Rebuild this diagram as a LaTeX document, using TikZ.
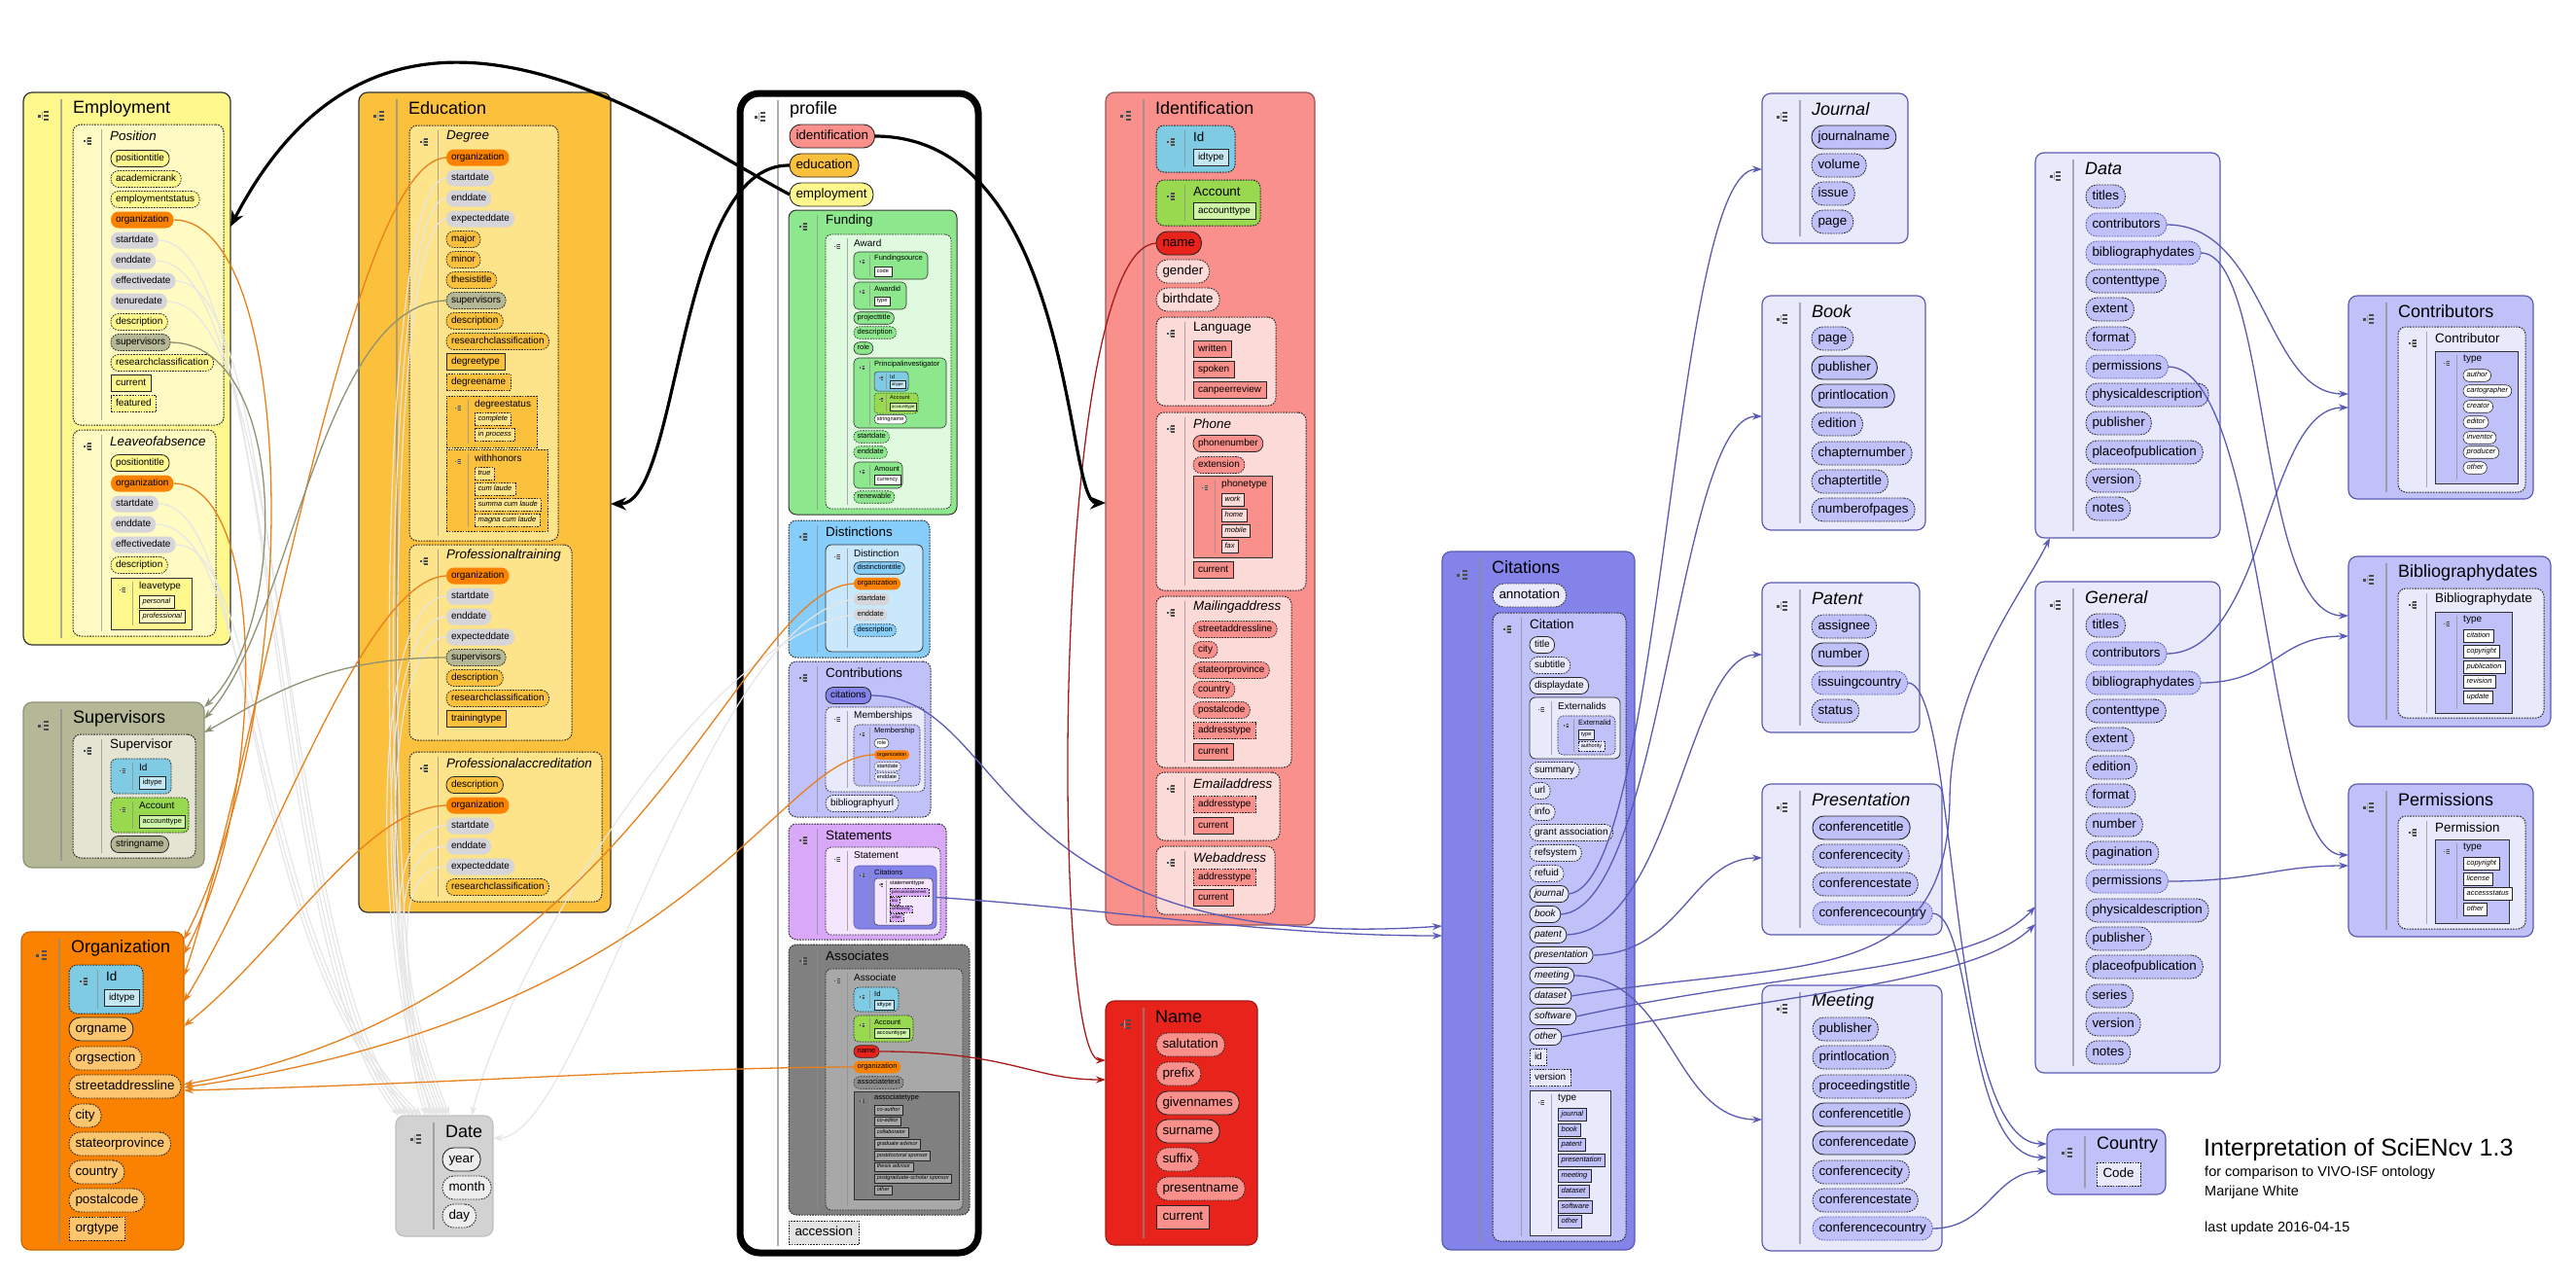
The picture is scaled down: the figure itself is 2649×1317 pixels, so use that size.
\documentclass[tikz,border=0pt]{standalone}
\usepackage{fontspec}
\setmainfont{Liberation Sans}
\usetikzlibrary{arrows.meta}

\definecolor{empY}{HTML}{FFF88C}
\definecolor{empIn}{HTML}{FFFBC2}
\definecolor{eduO}{HTML}{FCC13C}
\definecolor{eduIn}{HTML}{FDE38A}
\definecolor{orgO}{HTML}{FA8200}
\definecolor{orgIt}{HTML}{FDC66E}
\definecolor{dateG}{HTML}{D5D5DA}
\definecolor{dateBx}{HTML}{D2D2D2}
\definecolor{supG}{HTML}{B5B897}
\definecolor{supIn}{HTML}{E4E4D3}
\definecolor{idB}{HTML}{80CBE4}
\definecolor{idIt}{HTML}{C6E8F4}
\definecolor{accG}{HTML}{98D950}
\definecolor{accIt}{HTML}{CFF5A8}
\definecolor{idfR}{HTML}{F9908C}
\definecolor{idfIn}{HTML}{FCDAD8}
\definecolor{nameR}{HTML}{E8231B}
\definecolor{fundG}{HTML}{8DE88D}
\definecolor{fundIn}{HTML}{E0FAE0}
\definecolor{distB}{HTML}{87CDFA}
\definecolor{distIn}{HTML}{CAE8FC}
\definecolor{lavA}{HTML}{C1C1FA}
\definecolor{lavB}{HTML}{E9E9FC}
\definecolor{citB}{HTML}{8383EA}
\definecolor{stmV}{HTML}{D9A8F8}
\definecolor{stmIn}{HTML}{F4E6FC}
\definecolor{assG}{HTML}{808080}
\definecolor{assIn}{HTML}{A8A8A8}
\definecolor{assTx}{HTML}{8E8E8E}
\definecolor{linkB}{HTML}{5A5AB4}
\definecolor{orgLn}{HTML}{E8801C}
\definecolor{supLn}{HTML}{8E9274}
\definecolor{dateLn}{HTML}{E6E6E6}
\definecolor{nameLn}{HTML}{A81A1A}

% per-level geometry of a container: icon offset/scale, separator, title offset/size
\newcommand\setlev[1]{\ifcase#1\relax
 \def\ICx{21}\def\ICy{24}\def\ICs{1}\def\SPx{39}\def\TTx{51}\def\TTy{16.5}\def\TTf{18}\def\SPi{7}\def\RR{9}\def\LW{1.2}\or
 \def\ICx{15}\def\ICy{17}\def\ICs{0.75}\def\SPx{29}\def\TTx{38}\def\TTy{11.5}\def\TTf{13.4}\def\SPi{5}\def\RR{8}\def\LW{1}\or
 \def\ICx{12}\def\ICy{12.5}\def\ICs{0.55}\def\SPx{22}\def\TTx{29}\def\TTy{8.5}\def\TTf{10}\def\SPi{4}\def\RR{6}\def\LW{0.8}\or
 \def\ICx{8.5}\def\ICy{10}\def\ICs{0.42}\def\SPx{16}\def\TTx{21}\def\TTy{6.5}\def\TTf{7.5}\def\SPi{3}\def\RR{5}\def\LW{0.6}\or
 \def\ICx{7}\def\ICy{6.5}\def\ICs{0.32}\def\SPx{12.5}\def\TTx{16}\def\TTy{5}\def\TTf{5.6}\def\SPi{2}\def\RR{3.5}\def\LW{0.5}\fi}

\tikzset{
 ico/.pic={
  \fill[black!70] (-6,-1.5) rectangle (-3,1.5);
  \draw[black!35,line width=0.6] (-1.3,-4.2) -- (-1.3,4.2);
  \fill[black!70] (0,-5) rectangle (5,-3.2);
  \fill[black!70] (0,-0.9) rectangle (5,0.9);
  \fill[black!70] (0,3.2) rectangle (5,5);
 },
 cont/.style={draw=black!80, inner sep=0pt, outer sep=0pt},
 sepl/.style={draw=black!45, draw opacity=0.7},
 itm/.style={anchor=west, inner ysep=0pt, outer sep=0pt},
 lA/.style={font=\fontsize{13.4}{14}\selectfont, minimum height=24, inner xsep=6.5, rounded corners=11.5, line width=0.9, text height=9.6, text depth=2.9},
 lB/.style={font=\fontsize{10}{11}\selectfont, minimum height=17, inner xsep=5, rounded corners=8, line width=0.8, text height=7.2, text depth=2.2},
 lC/.style={font=\fontsize{7.5}{8}\selectfont, minimum height=12.5, inner xsep=3.6, rounded corners=6, line width=0.6, text height=5.4, text depth=1.6},
 lD/.style={font=\fontsize{5.6}{6}\selectfont, minimum height=9.5, inner xsep=2.8, rounded corners=4.5, line width=0.5, text height=4, text depth=1.2},
 lE/.style={font=\fontsize{4.3}{5}\selectfont, minimum height=7.5, inner xsep=2.2, rounded corners=3.5, line width=0.4, text height=3.1, text depth=0.9},
 sq/.style={sharp corners},
 sd/.style={draw=black!85},
 dd/.style={draw=black!85, dash pattern=on 1.6pt off 1.2pt},
 ddB/.style={draw=linkB, dash pattern=on 1.6pt off 1.2pt},
 nb/.style={},
 blk/.style={draw=black, line width=3.2, -{Stealth[length=16pt,width=13pt]}},
 orgL/.style={draw=orgLn, line width=1.3, -{Stealth[length=10pt,width=7pt]}},
 supL/.style={draw=supLn, line width=1.3, -{Stealth[length=10pt,width=7pt]}},
 datL/.style={draw=dateLn, line width=1.2, -{Stealth[length=10pt,width=7pt]}},
 bluL/.style={draw=linkB, line width=1.3, -{Stealth[length=10pt,width=7pt]}},
 nmL/.style={draw=nameLn, line width=1.3, -{Stealth[length=10pt,width=7pt]}},
}

% container: [style]{name}{level}{x1}{y1}{x2}{y2}{title}
\newcommand\Bx[8][]{%
 \setlev{#3}%
 \pgfmathsetmacro\bw{#6-#4}\pgfmathsetmacro\bh{#7-#5}%
 \node[cont, line width=\LW, rounded corners=\RR, minimum width=\bw pt, minimum height=\bh pt, anchor=north west, #1] (#2) at (#4,#5) {};%
 \pic[scale=\ICs] at (#4+\ICx,#5+\ICy) {ico};%
 \draw[sepl, line width=\LW] (#4+\SPx,#5+\SPi) -- (#4+\SPx,#7-\SPi);%
 \node[anchor=west, inner sep=0pt, font=\fontsize{\TTf}{\TTf}\selectfont] (#2t) at (#4+\TTx,#5+\TTy) {#8};%
}
% item: [style]{name}{x}{y}{text}
\newcommand\Itm[5][]{\node[itm,#1] (#2) at (#3,#4) {#5};}

\begin{document}
\begin{tikzpicture}[x=1pt,y=-1pt]
\fill[white] (0,0) rectangle (2649,1317);
\useasboundingbox (0,0) rectangle (2649,1317);

%================ Employment
\Bx[fill=empY]{empBox}{0}{24}{95}{237}{663}{Employment}
\Bx[dd,fill=empIn]{posBox}{1}{75}{128}{230}{437}{\itshape Position}
\Itm[lB,sd,fill=empY]{ps1}{114}{163}{positiontitle}
\Itm[lB,dd,fill=empY]{ps2}{114}{184}{academicrank}
\Itm[lB,dd,fill=empY]{ps3}{114}{205}{employmentstatus}
\Itm[lB,nb,fill=orgO]{psOrg}{114}{226}{organization}
\Itm[lB,nb,fill=dateG]{psSd}{114}{247}{startdate}
\Itm[lB,nb,fill=dateG]{psEd}{114}{268}{enddate}
\Itm[lB,nb,fill=dateG]{psEf}{114}{289}{effectivedate}
\Itm[lB,nb,fill=dateG]{psTn}{114}{310}{tenuredate}
\Itm[lB,dd,fill=empY]{ps9}{114}{331}{description}
\Itm[lB,dd,fill=supG]{psSup}{114}{352}{supervisors}
\Itm[lB,dd,fill=empY]{ps11}{114}{373}{researchclassification}
\Itm[lB,sq,sd,fill=empY]{ps12}{114}{394}{current}
\Itm[lB,sq,dd,fill=empY]{ps13}{114}{415}{featured}
\Bx[dd,fill=empIn]{leaveBox}{1}{75}{442}{222}{654}{\itshape Leaveofabsence}
\Itm[lB,sd,fill=empY]{lv1}{114}{476}{positiontitle}
\Itm[lB,nb,fill=orgO]{lvOrg}{114}{497}{organization}
\Itm[lB,nb,fill=dateG]{lvSd}{114}{518}{startdate}
\Itm[lB,nb,fill=dateG]{lvEd}{114}{539}{enddate}
\Itm[lB,nb,fill=dateG]{lvEf}{114}{560}{effectivedate}
\Itm[lB,dd,fill=empY]{lv6}{114}{581}{description}
\Bx[sq,fill=empY]{ltBox}{2}{114}{594}{197}{647}{leavetype}
\Itm[lC,sq,sd,fill=empIn]{lt1}{143}{619}{\itshape personal}
\Itm[lC,sq,sd,fill=empIn]{lt2}{143}{634}{\itshape professional}

%================ Supervisors
\Bx[fill=supG,draw=supLn]{supBox}{0}{24}{722}{210}{892}{Supervisors}
\Bx[dd,fill=supIn]{svBox}{1}{75}{755}{201}{882}{Supervisor}
\Bx[dd,fill=idB]{svId}{2}{114}{780}{176}{816}{Id}
\Itm[lC,sq,sd,fill=idIt]{sv1}{143}{805}{idtype}
\Bx[dd,fill=accG]{svAcc}{2}{114}{820}{194}{856}{Account}
\Itm[lC,sq,sd,fill=accIt]{sv2}{143}{845}{accounttype}
\Itm[lB,sd,fill=supG]{sv3}{114}{868}{stringname}

%================ Organization
\Bx[fill=orgO,draw=orgO!80!black]{orgBox}{0}{22}{958}{189}{1285}{Organization}
\Bx[dd,fill=idB]{orgId}{1}{71}{992}{147}{1042}{Id}
\Itm[lB,sq,sd,fill=idIt]{og0}{107}{1026}{idtype}
\Itm[lA,sd,fill=orgIt]{og1}{71}{1058}{orgname}
\Itm[lA,dd,fill=orgIt]{og2}{71}{1088}{orgsection}
\Itm[lA,dd,fill=orgIt]{og3}{71}{1117}{streetaddressline}
\Itm[lA,dd,fill=orgIt]{og4}{71}{1147}{city}
\Itm[lA,dd,fill=orgIt]{og5}{71}{1176}{stateorprovince}
\Itm[lA,dd,fill=orgIt]{og6}{71}{1205}{country}
\Itm[lA,dd,fill=orgIt]{og7}{71}{1234}{postalcode}
\Itm[lA,sq,dd,fill=orgIt]{og8}{71}{1263}{orgtype}

%================ Date
\Bx[fill=dateBx,draw=black!25]{dateBox}{0}{407}{1147}{507}{1271}{Date}
\Itm[lA,sd,fill=black!7]{dt1}{455}{1192}{year}
\Itm[lA,dd,fill=black!7]{dt2}{455}{1221}{month}
\Itm[lA,dd,fill=black!7]{dt3}{455}{1250}{day}

%================ Education
\Bx[fill=eduO]{eduBox}{0}{369}{95}{628}{938}{Education}
\Bx[dd,fill=eduIn]{degBox}{1}{421}{129}{574}{556}{\itshape Degree}
\Itm[lB,nb,fill=orgO]{dgOrg}{459}{162}{organization}
\Itm[lB,nb,fill=dateG]{dgSd}{459}{183}{startdate}
\Itm[lB,nb,fill=dateG]{dgEd}{459}{204}{enddate}
\Itm[lB,nb,fill=dateG]{dgEx}{459}{225}{expecteddate}
\Itm[lB,dd,fill=eduO]{dg5}{459}{246}{major}
\Itm[lB,dd,fill=eduO]{dg6}{459}{267}{minor}
\Itm[lB,dd,fill=eduO]{dg7}{459}{288}{thesistitle}
\Itm[lB,dd,fill=supG]{dgSup}{459}{309}{supervisors}
\Itm[lB,dd,fill=eduO]{dg9}{459}{330}{description}
\Itm[lB,dd,fill=eduO]{dg10}{459}{351}{researchclassification}
\Itm[lB,sq,sd,fill=eduO]{dg11}{459}{372}{degreetype}
\Itm[lB,sq,dd,fill=eduO]{dg12}{459}{393}{degreename}
\Bx[sq,dd,fill=eduO]{dsBox}{2}{459}{407}{552}{460}{degreestatus}
\Itm[lC,sq,dd,fill=eduIn]{ds1}{488}{431}{\itshape complete}
\Itm[lC,sq,dd,fill=eduIn]{ds2}{488}{447}{\itshape in process}
\Bx[sq,dd,fill=eduO]{whBox}{2}{459}{462}{563}{546}{withhonors}
\Itm[lC,sq,dd,fill=eduIn]{wh1}{488}{487}{\itshape true}
\Itm[lC,sq,dd,fill=eduIn]{wh2}{488}{503}{\itshape cum laude}
\Itm[lC,sq,dd,fill=eduIn]{wh3}{488}{519}{\itshape summa cum laude}
\Itm[lC,sq,dd,fill=eduIn]{wh4}{488}{535}{\itshape magna cum laude}
\Bx[dd,fill=eduIn]{ptBox}{1}{421}{560}{588}{761}{\itshape Professionaltraining}
\Itm[lB,nb,fill=orgO]{ptOrg}{459}{592}{organization}
\Itm[lB,nb,fill=dateG]{ptSd}{459}{613}{startdate}
\Itm[lB,nb,fill=dateG]{ptEd}{459}{634}{enddate}
\Itm[lB,nb,fill=dateG]{ptEx}{459}{655}{expecteddate}
\Itm[lB,dd,fill=supG]{ptSup}{459}{676}{supervisors}
\Itm[lB,dd,fill=eduO]{pt6}{459}{697}{description}
\Itm[lB,dd,fill=eduO]{pt7}{459}{718}{researchclassification}
\Itm[lB,sq,sd,fill=eduO]{pt8}{459}{739}{trainingtype}
\Bx[dd,fill=eduIn]{paBox}{1}{421}{773}{619}{927}{\itshape Professionalaccreditation}
\Itm[lB,sd,fill=eduO]{pa1}{459}{807}{description}
\Itm[lB,nb,fill=orgO]{paOrg}{459}{828}{organization}
\Itm[lB,nb,fill=dateG]{paSd}{459}{849}{startdate}
\Itm[lB,nb,fill=dateG]{paEd}{459}{870}{enddate}
\Itm[lB,nb,fill=dateG]{paEx}{459}{891}{expecteddate}
\Itm[lB,dd,fill=eduO]{pa6}{459}{912}{researchclassification}

%================ profile
\Bx[draw=black,line width=7,fill=white,rounded corners=20]{pfBox}{0}{761}{96}{1006}{1288}{profile}
\Itm[lA,sd,fill=idfR]{pfIdf}{812}{140}{identification}
\Itm[lA,sd,fill=eduO]{pfEdu}{812}{170}{education}
\Itm[lA,sd,fill=empY]{pfEmp}{812}{200}{employment}
\Bx[fill=fundG]{fundBox}{1}{811}{216}{984}{529}{Funding}
\Bx[dd,fill=fundIn]{awBox}{2}{849}{241}{978}{523}{Award}
\Bx[fill=fundG]{fsBox}{3}{878}{259}{954}{287}{Fundingsource}
\Itm[lD,sq,sd,fill=white]{fs1}{899}{279}{code}
\Bx[fill=fundG]{aidBox}{3}{878}{290}{932}{318}{Awardid}
\Itm[lD,sq,sd,fill=white]{ai1}{899}{309.5}{type}
\Itm[lC,sd,fill=fundG]{aw1}{878}{327}{projecttitle}
\Itm[lC,dd,fill=fundG]{aw2}{878}{342}{description}
\Itm[lC,sd,fill=fundG]{aw3}{878}{358}{role}
\Bx[fill=fundG]{piBox}{3}{878}{368}{973}{440}{Principalinvestigator}
\Bx[fill=idB]{piId}{4}{899}{382}{934}{402}{Id}
\Itm[lE,sq,sd,fill=idIt]{pi1}{915}{395}{idtype}
\Bx[dd,fill=accG]{piAcc}{4}{899}{404}{944}{425}{Account}
\Itm[lE,sq,sd,fill=accIt]{pi2}{915}{418}{accounttype}
\Itm[lD,sd,fill=white]{pi3}{899}{431}{stringname}
\Itm[lC,dd,fill=fundG]{aw4}{878}{449}{startdate}
\Itm[lC,dd,fill=fundG]{aw5}{878}{465}{enddate}
\Bx[fill=fundG]{amBox}{3}{878}{475}{928}{502}{Amount}
\Itm[lD,sq,sd,fill=white]{am1}{899}{493}{currency}
\Itm[lC,dd,fill=fundG]{aw6}{878}{511}{renewable}

\Bx[dd,fill=distB]{distsBox}{1}{811}{535}{956}{676}{Distinctions}
\Bx[fill=distIn]{distBox}{2}{849}{560}{949}{670}{Distinction}
\Itm[lC,sd,fill=distB]{di1}{878}{584}{distinctiontitle}
\Itm[lC,nb,fill=orgO]{dsOrg}{878}{600}{organization}
\Itm[lC,nb,fill=dateG]{dsSd}{878}{616}{startdate}
\Itm[lC,nb,fill=dateG]{dsEd}{878}{632}{enddate}
\Itm[lC,dd,fill=distB]{di5}{878}{648}{description}

\Bx[dd,fill=lavA]{ctsBox}{1}{811}{680}{957}{840}{Contributions}
\Itm[lB,sd,fill=citB]{ctCit}{849}{715}{citations}
\Bx[dd,fill=lavB]{mshsBox}{2}{849}{727}{951}{814}{Memberships}
\Bx[dd,fill=lavA]{mshBox}{3}{878}{745}{946}{808}{Membership}
\Itm[lD,sd,fill=white]{mb1}{899}{764}{role}
\Itm[lD,nb,fill=orgO]{mbOrg}{899}{776}{organization}
\Itm[lD,dd,fill=lavB]{mb3}{899}{788}{startdate}
\Itm[lD,dd,fill=lavB]{mb4}{899}{799}{enddate}
\Itm[lB,dd,fill=lavB]{ct2}{849}{826}{bibliographyurl}

\Bx[dd,fill=stmV]{stsBox}{1}{811}{847}{973}{966}{Statements}
\Bx[dd,fill=stmIn]{stBox}{2}{849}{871}{967}{961}{Statement}
\Bx[fill=citB,draw=linkB]{stCit}{3}{878}{890}{963}{955}{Citations}
\Bx[fill=stmIn]{sttBox}{4}{899}{903}{959}{951}{statementtype}
\Itm[lE,sq,dd,fill=stmV]{stt1}{915}{917}{personalstatement}
\Itm[lE,sq,dd,fill=stmV]{stt2}{915}{926}{bio}
\Itm[lE,sq,dd,fill=stmV]{stt3}{915}{934.5}{selectivity}
\Itm[lE,sq,dd,fill=stmV]{stt4}{915}{943}{other}

\Bx[dd,fill=assG]{assBox}{1}{811}{971}{997}{1249}{Associates}
\Bx[dd,fill=assIn]{asBox}{2}{849}{996}{990}{1244}{Associate}
\Bx[dd,fill=idB]{asId}{3}{878}{1015}{924}{1040}{Id}
\Itm[lD,sq,sd,fill=idIt]{as1}{899}{1033}{idtype}
\Bx[dd,fill=accG]{asAcc}{3}{878}{1044}{939}{1071}{Account}
\Itm[lD,sq,sd,fill=accIt]{as2}{899}{1062}{accounttype}
\Itm[lC,sd,fill=nameR]{asName}{878}{1081}{name}
\Itm[lC,nb,fill=orgO]{asOrg}{878}{1097}{organization}
\Itm[lC,dd,fill=assTx]{as5}{878}{1113}{associatetext}
\Bx[sq,fill=assG]{attBox}{3}{878}{1122}{986}{1233}{associatetype}
\Itm[lD,sq,sd,fill=assIn]{at1}{899}{1141}{\itshape co-author}
\Itm[lD,sq,sd,fill=assIn]{at2}{899}{1152.5}{\itshape co-editor}
\Itm[lD,sq,sd,fill=assIn]{at3}{899}{1164}{\itshape collaborator}
\Itm[lD,sq,sd,fill=assIn]{at4}{899}{1176}{\itshape graduate advisor}
\Itm[lD,sq,sd,fill=assIn]{at5}{899}{1188}{\itshape postdoctoral sponsor}
\Itm[lD,sq,sd,fill=assIn]{at6}{899}{1199.5}{\itshape thesis advisor}
\Itm[lD,sq,sd,fill=assIn]{at7}{899}{1211.5}{\itshape postgraduate-scholar sponsor}
\Itm[lD,sq,sd,fill=assIn]{at8}{899}{1223.5}{\itshape other}
\Itm[lA,sq,dd,fill=black!11]{pfAcc}{811}{1267}{accession}

%================ Identification
\Bx[fill=idfR,draw=idfR!60!black]{idfBox}{0}{1137}{95}{1352}{951}{Identification}
\Bx[dd,fill=idB]{idfId}{1}{1189}{129}{1270}{177}{Id}
\Itm[lB,sq,sd,fill=idIt]{if1}{1227}{162}{idtype}
\Bx[dd,fill=accG]{idfAcc}{1}{1189}{185}{1296}{232}{Account}
\Itm[lB,sq,sd,fill=accIt]{if2}{1227}{217}{accounttype}
\Itm[lA,sd,fill=nameR]{idName}{1189}{250}{name}
\Itm[lA,dd,fill=idfIn]{if3}{1189}{279}{gender}
\Itm[lA,dd,fill=idfIn]{if4}{1189}{308}{birthdate}
\Bx[dd,fill=idfIn]{langBox}{1}{1189}{326}{1312}{417}{Language}
\Itm[lB,sq,sd,fill=idfR]{lg1}{1227}{359}{written}
\Itm[lB,sq,sd,fill=idfR]{lg2}{1227}{380}{spoken}
\Itm[lB,sq,sd,fill=idfR]{lg3}{1227}{401}{canpeerreview}
\Bx[dd,fill=idfIn]{phBox}{1}{1189}{424}{1343}{607}{\itshape Phone}
\Itm[lB,sd,fill=idfR]{ph1}{1227}{456}{phonenumber}
\Itm[lB,dd,fill=idfR]{ph2}{1227}{478}{extension}
\Bx[sq,fill=idfR]{pttBox}{2}{1227}{489}{1308}{573}{phonetype}
\Itm[lC,sq,sd,fill=idfIn]{pt1x}{1256}{514}{\itshape work}
\Itm[lC,sq,sd,fill=idfIn]{pt2x}{1256}{530}{\itshape home}
\Itm[lC,sq,sd,fill=idfIn]{pt3x}{1256}{546}{\itshape mobile}
\Itm[lC,sq,sd,fill=idfIn]{pt4x}{1256}{562}{\itshape fax}
\Itm[lB,sq,sd,fill=idfR]{ph3}{1227}{586}{current}
\Bx[dd,fill=idfIn]{mailBox}{1}{1189}{613}{1328}{789}{\itshape Mailingaddress}
\Itm[lB,dd,fill=idfR]{ma1}{1227}{647}{streetaddressline}
\Itm[lB,dd,fill=idfR]{ma2}{1227}{668}{city}
\Itm[lB,dd,fill=idfR]{ma3}{1227}{689}{stateorprovince}
\Itm[lB,dd,fill=idfR]{ma4}{1227}{709}{country}
\Itm[lB,dd,fill=idfR]{ma5}{1227}{730}{postalcode}
\Itm[lB,sq,dd,fill=idfR]{ma6}{1227}{751}{addresstype}
\Itm[lB,sq,sd,fill=idfR]{ma7}{1227}{773}{current}
\Bx[dd,fill=idfIn]{emBox}{1}{1189}{794}{1316}{864}{\itshape Emailaddress}
\Itm[lB,sq,dd,fill=idfR]{em1}{1227}{827}{addresstype}
\Itm[lB,sq,sd,fill=idfR]{em2}{1227}{849}{current}
\Bx[dd,fill=idfIn]{webBox}{1}{1189}{870}{1311}{940}{\itshape Webaddress}
\Itm[lB,sq,dd,fill=idfR]{wb1}{1227}{902}{addresstype}
\Itm[lB,sq,sd,fill=idfR]{wb2}{1227}{923}{current}

%================ Name
\Bx[fill=nameR,draw=nameR!70!black]{nameBox}{0}{1137}{1029}{1293}{1280}{Name}
\Itm[lA,dd,fill=idfR]{nm1}{1189}{1074}{salutation}
\Itm[lA,dd,fill=idfR]{nm2}{1189}{1104}{prefix}
\Itm[lA,sd,fill=idfR]{nm3}{1189}{1134}{givennames}
\Itm[lA,sd,fill=idfR]{nm4}{1189}{1163}{surname}
\Itm[lA,dd,fill=idfR]{nm5}{1189}{1192}{suffix}
\Itm[lA,dd,fill=idfR]{nm6}{1189}{1222}{presentname}
\Itm[lA,sq,sd,fill=idfR]{nm7}{1189}{1251}{current}

%================ Citations
\Bx[fill=citB,draw=linkB]{citBox}{0}{1483}{567}{1681}{1285}{Citations}
\Itm[lA,dd,fill=lavB]{cn0}{1535}{612}{annotation}
\Bx[dd,fill=lavA]{citnBox}{1}{1535}{630}{1672}{1276}{Citation}
\Itm[lB,sd,fill=lavB]{cn1}{1573}{663}{title}
\Itm[lB,dd,fill=lavB]{cn2}{1573}{684}{subtitle}
\Itm[lB,sd,fill=lavB]{cn3}{1573}{705}{displaydate}
\Bx[fill=lavB]{exsBox}{2}{1573}{717}{1666}{780}{Externalids}
\Bx[dd,fill=lavA]{exBox}{3}{1602}{736}{1661}{776}{Externalid}
\Itm[lD,sq,sd,fill=lavB]{ex1}{1623}{755}{type}
\Itm[lD,sq,dd,fill=lavB]{ex2}{1623}{767}{authority}
\Itm[lB,dd,fill=lavB]{cn4}{1573}{792}{summary}
\Itm[lB,dd,fill=lavB]{cn5}{1573}{813}{url}
\Itm[lB,dd,fill=lavB]{cn6}{1573}{835}{info}
\Itm[lB,dd,fill=lavB]{cn7}{1573}{856}{grant association}
\Itm[lB,dd,fill=lavB]{cn8}{1573}{877}{refsystem}
\Itm[lB,dd,fill=lavB]{cn9}{1573}{898}{refuid}
\Itm[lB,sd,fill=lavB]{cJour}{1573}{919}{\itshape journal}
\Itm[lB,sd,fill=lavB]{cBook}{1573}{940}{\itshape book}
\Itm[lB,sd,fill=lavB]{cPat}{1573}{961}{\itshape patent}
\Itm[lB,sd,fill=lavB]{cPres}{1573}{982}{\itshape presentation}
\Itm[lB,sd,fill=lavB]{cMeet}{1573}{1003}{\itshape meeting}
\Itm[lB,sd,fill=lavB]{cData}{1573}{1024}{\itshape dataset}
\Itm[lB,sd,fill=lavB]{cSoft}{1573}{1045}{\itshape software}
\Itm[lB,sd,fill=lavB]{cOth}{1573}{1066}{\itshape other}
\Itm[lB,sq,dd,fill=lavB]{cn10}{1573}{1087}{id}
\Itm[lB,sq,dd,fill=lavB]{cn11}{1573}{1108}{version}
\Bx[sq,fill=lavB]{ctyBox}{2}{1573}{1121}{1656}{1270}{type}
\Itm[lC,sq,sd,fill=lavA]{ty1}{1602}{1146}{\itshape journal}
\Itm[lC,sq,sd,fill=lavA]{ty2}{1602}{1162}{\itshape book}
\Itm[lC,sq,sd,fill=lavA]{ty3}{1602}{1177}{\itshape patent}
\Itm[lC,sq,sd,fill=lavA]{ty4}{1602}{1193}{\itshape presentation}
\Itm[lC,sq,sd,fill=lavA]{ty5}{1602}{1209}{\itshape meeting}
\Itm[lC,sq,sd,fill=lavA]{ty6}{1602}{1225}{\itshape dataset}
\Itm[lC,sq,sd,fill=lavA]{ty7}{1602}{1241}{\itshape software}
\Itm[lC,sq,sd,fill=lavA]{ty8}{1602}{1256}{\itshape other}

%================ Journal, Book, Patent, Presentation, Meeting
\Bx[fill=lavB,draw=linkB]{jourBox}{0}{1812}{96}{1962}{250}{\itshape Journal}
\Itm[lA,sd,fill=lavA]{jo1}{1863}{141}{journalname}
\Itm[lA,dd,fill=lavA]{jo2}{1863}{170}{volume}
\Itm[lA,dd,fill=lavA]{jo3}{1863}{199}{issue}
\Itm[lA,dd,fill=lavA]{jo4}{1863}{228}{page}
\Bx[fill=lavB,draw=linkB]{bookBox}{0}{1812}{304}{1980}{545}{\itshape Book}
\Itm[lA,dd,fill=lavA]{bk1}{1863}{348}{page}
\Itm[lA,sd,fill=lavA]{bk2}{1863}{378}{publisher}
\Itm[lA,sd,fill=lavA]{bk3}{1863}{407}{printlocation}
\Itm[lA,dd,fill=lavA]{bk4}{1863}{436}{edition}
\Itm[lA,dd,fill=lavA]{bk5}{1863}{466}{chapternumber}
\Itm[lA,dd,fill=lavA]{bk6}{1863}{495}{chaptertitle}
\Itm[lA,dd,fill=lavA]{bk7}{1863}{524}{numberofpages}
\Bx[fill=lavB,draw=linkB]{patBox}{0}{1812}{599}{1974}{753}{\itshape Patent}
\Itm[lA,dd,fill=lavA]{pa1x}{1863}{644}{assignee}
\Itm[lA,sd,fill=lavA]{pa2x}{1863}{673}{number}
\Itm[lA,ddB,fill=lavA]{patCtry}{1863}{702}{issuingcountry}
\Itm[lA,dd,fill=lavA]{pa4x}{1863}{731}{status}
\Bx[fill=lavB,draw=linkB]{presBox}{0}{1812}{806}{1997}{961}{\itshape Presentation}
\Itm[lA,sd,fill=lavA]{pr1}{1864}{851}{conferencetitle}
\Itm[lA,dd,fill=lavA]{pr2}{1864}{880}{conferencecity}
\Itm[lA,dd,fill=lavA]{pr3}{1864}{909}{conferencestate}
\Itm[lA,ddB,fill=lavA]{prCtry}{1864}{939}{conferencecountry}
\Bx[fill=lavB,draw=linkB]{meetBox}{0}{1812}{1013}{1997}{1286}{\itshape Meeting}
\Itm[lA,dd,fill=lavA]{me1}{1864}{1058}{publisher}
\Itm[lA,dd,fill=lavA]{me2}{1864}{1087}{printlocation}
\Itm[lA,dd,fill=lavA]{me3}{1864}{1117}{proceedingstitle}
\Itm[lA,sd,fill=lavA]{me4}{1864}{1146}{conferencetitle}
\Itm[lA,sd,fill=lavA]{me5}{1864}{1175}{conferencedate}
\Itm[lA,dd,fill=lavA]{me6}{1864}{1205}{conferencecity}
\Itm[lA,dd,fill=lavA]{me7}{1864}{1234}{conferencestate}
\Itm[lA,ddB,fill=lavA]{mtCtry}{1864}{1263}{conferencecountry}

%================ Data, General
\Bx[fill=lavB,draw=linkB]{dataBox}{0}{2093}{157}{2283}{553}{\itshape Data}
\Itm[lA,dd,fill=lavA]{da1}{2145}{202}{titles}
\Itm[lA,ddB,fill=lavA]{daContr}{2145}{231}{contributors}
\Itm[lA,ddB,fill=lavA]{daBib}{2145}{260}{bibliographydates}
\Itm[lA,dd,fill=lavA]{da4}{2145}{289}{contenttype}
\Itm[lA,dd,fill=lavA]{da5}{2145}{318}{extent}
\Itm[lA,dd,fill=lavA]{da6}{2145}{348}{format}
\Itm[lA,ddB,fill=lavA]{daPerm}{2145}{377}{permissions}
\Itm[lA,dd,fill=lavA]{da8}{2145}{406}{physicaldescription}
\Itm[lA,dd,fill=lavA]{da9}{2145}{435}{publisher}
\Itm[lA,dd,fill=lavA]{da10}{2145}{465}{placeofpublication}
\Itm[lA,dd,fill=lavA]{da11}{2145}{494}{version}
\Itm[lA,dd,fill=lavA]{da12}{2145}{523}{notes}
\Bx[fill=lavB,draw=linkB]{genBox}{0}{2093}{598}{2283}{1103}{\itshape General}
\Itm[lA,dd,fill=lavA]{ge1}{2145}{643}{titles}
\Itm[lA,ddB,fill=lavA]{geContr}{2145}{672}{contributors}
\Itm[lA,ddB,fill=lavA]{geBib}{2145}{702}{bibliographydates}
\Itm[lA,dd,fill=lavA]{ge4}{2145}{731}{contenttype}
\Itm[lA,dd,fill=lavA]{ge5}{2145}{760}{extent}
\Itm[lA,dd,fill=lavA]{ge6}{2145}{789}{edition}
\Itm[lA,dd,fill=lavA]{ge7}{2145}{818}{format}
\Itm[lA,dd,fill=lavA]{ge8}{2145}{848}{number}
\Itm[lA,dd,fill=lavA]{ge9}{2145}{877}{pagination}
\Itm[lA,ddB,fill=lavA]{gePerm}{2145}{906}{permissions}
\Itm[lA,dd,fill=lavA]{ge11}{2145}{936}{physicaldescription}
\Itm[lA,dd,fill=lavA]{ge12}{2145}{965}{publisher}
\Itm[lA,dd,fill=lavA]{ge13}{2145}{994}{placeofpublication}
\Itm[lA,dd,fill=lavA]{ge14}{2145}{1024}{series}
\Itm[lA,dd,fill=lavA]{ge15}{2145}{1053}{version}
\Itm[lA,dd,fill=lavA]{ge16}{2145}{1082}{notes}

%================ Contributors, Bibliographydates, Permissions, Country
\Bx[fill=lavA,draw=linkB]{contrBox}{0}{2415}{304}{2605}{513}{Contributors}
\Bx[dd,fill=lavB]{cbBox}{1}{2466}{336}{2597}{506}{Contributor}
\Bx[sq,fill=lavA]{cbType}{2}{2504}{361}{2589}{497}{type}
\Itm[lC,sd,fill=white]{cb1}{2533}{386}{\itshape author}
\Itm[lC,sd,fill=white]{cb2}{2533}{402}{\itshape cartographer}
\Itm[lC,sd,fill=white]{cb3}{2533}{418}{\itshape creator}
\Itm[lC,sd,fill=white]{cb4}{2533}{434}{\itshape editor}
\Itm[lC,sd,fill=white]{cb5}{2533}{450}{\itshape inventor}
\Itm[lC,sd,fill=white]{cb6}{2533}{465}{\itshape producer}
\Itm[lC,sd,fill=white]{cb7}{2533}{481}{\itshape other}
\Bx[fill=lavA,draw=linkB]{bibBox}{0}{2415}{572}{2623}{747}{Bibliographydates}
\Bx[dd,fill=lavB]{bdBox}{1}{2466}{605}{2616}{738}{Bibliographydate}
\Bx[sq,fill=lavA]{bdType}{2}{2504}{629}{2583}{733}{type}
\Itm[lC,sq,sd,fill=white]{bd1}{2533}{654}{\itshape citation}
\Itm[lC,sq,sd,fill=white]{bd2}{2533}{670}{\itshape copyright}
\Itm[lC,sq,sd,fill=white]{bd3}{2533}{686}{\itshape publication}
\Itm[lC,sq,sd,fill=white]{bd4}{2533}{701}{\itshape revision}
\Itm[lC,sq,sd,fill=white]{bd5}{2533}{717}{\itshape update}
\Bx[fill=lavA,draw=linkB]{permBox}{0}{2415}{806}{2605}{963}{Permissions}
\Bx[dd,fill=lavB]{pmBox}{1}{2466}{839}{2597}{955}{Permission}
\Bx[sq,fill=lavA]{pmType}{2}{2504}{863}{2580}{949}{type}
\Itm[lC,sq,sd,fill=white]{pm1}{2533}{888}{\itshape copyright}
\Itm[lC,sq,sd,fill=white]{pm2}{2533}{904}{\itshape license}
\Itm[lC,sq,sd,fill=white]{pm3}{2533}{919}{\itshape accessstatus}
\Itm[lC,sq,sd,fill=white]{pm4}{2533}{935}{\itshape other}
\Bx[fill=lavA,draw=linkB]{ctryBox}{0}{2105}{1161}{2227}{1228}{Country}
\Itm[lA,sq,dd,fill=lavB]{cy1}{2156}{1207}{Code}

%================ heading text
\node[anchor=west,inner sep=0pt,font=\fontsize{25}{28}\selectfont] (hd1) at (2266,1182) {Interpretation of SciENcv 1.3};
\node[anchor=west,inner sep=0pt,font=\fontsize{14.5}{16}\selectfont] (hd2) at (2267,1206) {for comparison to VIVO-ISF ontology};
\node[anchor=west,inner sep=0pt,font=\fontsize{14.5}{16}\selectfont] (hd3) at (2267,1226) {Marijane White};
\node[anchor=west,inner sep=0pt,font=\fontsize{14.5}{16}\selectfont] (hd4) at (2267,1263) {last update 2016-04-15};

%================ connectors: dates
\foreach \sA/\cA/\tA in {psSd/285/410,psEd/290/414,psEf/295/418,psTn/300/422,lvSd/262/426,lvEd/268/430,lvEf/274/434}
  \draw[datL] (\sA.east) .. controls (\sA.east -| \cA,0) and (\cA-15,980) .. (dateBox.north -| \tA,0);
\foreach \sA/\cA/\tA in {dgSd/385/438,dgEd/390/441,dgEx/395/444,ptSd/380/447,ptEd/385/450,ptEx/390/453,paSd/395/456,paEd/400/459,paEx/405/462}
  \draw[datL] (\sA.west) .. controls (\sA.west -| \cA,0) and (\cA,1000) .. (dateBox.north -| \tA,0);
\draw[datL] (dsSd.west) .. controls (720,640) and (600,1170) .. (dateBox.east |- 0,1170);
\draw[datL] (dsEd.west) .. controls (720,655) and (520,1000) .. (dateBox.north -| 485,0);

%================ connectors: organization
\draw[orgL] (psOrg.east) .. controls (305,226) and (315,720) .. (orgBox.east |- 0,966);
\draw[orgL] (lvOrg.east) .. controls (275,497) and (275,820) .. (orgBox.east |- 0,981);
\draw[orgL] (dgOrg.west) .. controls (360,165) and (270,760) .. (orgBox.east |- 0,1004);
\draw[orgL] (ptOrg.west) .. controls (375,595) and (280,880) .. (orgBox.east |- 0,1030);
\draw[orgL] (paOrg.west) .. controls (375,830) and (290,975) .. (orgBox.east |- 0,1055);
\draw[orgL] (dsOrg.west) .. controls (760,605) and (660,1030) .. (orgBox.east |- 0,1115);
\draw[orgL] (mbOrg.west) .. controls (800,776) and (720,1040) .. (orgBox.east |- 0,1118);
\draw[orgL] (asOrg.west) .. controls (700,1097) and (450,1115) .. (orgBox.east |- 0,1121);

%================ connectors: supervisors
\draw[supL] (psSup.east) .. controls (295,352) and (300,640) .. (supBox.east |- 0,727);
\draw[supL] (dgSup.west) .. controls (330,312) and (300,640) .. (supBox.east |- 0,739);
\draw[supL] (ptSup.west) .. controls (330,676) and (270,720) .. (supBox.east |- 0,753);

%================ connectors: name
\draw[nmL] (idName.west) .. controls (1080,255) and (1080,1090) .. (nameBox.west |- 0,1090);
\draw[nmL] (asName.east) .. controls (1040,1081) and (1060,1110) .. (nameBox.west |- 0,1110);

%================ connectors: citations and their parts
\draw[bluL] (ctCit.east) .. controls (1040,715) and (1010,985) .. (citBox.west |- 0,952);
\draw[bluL] (stCit.east) .. controls (1150,935) and (1300,962) .. (citBox.west |- 0,962);
\draw[bluL] (cJour.east) .. controls (1710,910) and (1720,174) .. (jourBox.west |- 0,174);
\draw[bluL] (cBook.east) .. controls (1710,935) and (1725,428) .. (bookBox.west |- 0,428);
\draw[bluL] (cPat.east) .. controls (1720,958) and (1735,673) .. (patBox.west |- 0,673);
\draw[bluL] (cPres.east) .. controls (1730,980) and (1740,882) .. (presBox.west |- 0,882);
\draw[bluL] (cMeet.east) .. controls (1720,1003) and (1720,1151) .. (meetBox.west |- 0,1151);
\draw[bluL] (cData.east) .. controls (1850,985) and (2003,1020) .. (2005,820) .. controls (2007,700) and (2080,610) .. (dataBox.south -| 2108,0);
\draw[bluL] (cSoft.east) .. controls (1850,995) and (2030,1000) .. (genBox.west |- 0,932);
\draw[bluL] (cOth.east) .. controls (1850,1020) and (2030,1010) .. (genBox.west |- 0,950);
\draw[bluL] (patCtry.east) .. controls (2015,702) and (2000,1176) .. (ctryBox.west |- 0,1176);
\draw[bluL] (prCtry.east) .. controls (2030,939) and (2020,1190) .. (ctryBox.west |- 0,1190);
\draw[bluL] (mtCtry.east) .. controls (2045,1263) and (2050,1204) .. (ctryBox.west |- 0,1204);
\draw[bluL] (daContr.east) .. controls (2330,231) and (2330,405) .. (contrBox.west |- 0,405);
\draw[bluL] (daBib.east) .. controls (2335,260) and (2320,633) .. (bibBox.west |- 0,633);
\draw[bluL] (daPerm.east) .. controls (2330,377) and (2330,879) .. (permBox.west |- 0,879);
\draw[bluL] (geContr.east) .. controls (2330,672) and (2330,419) .. (contrBox.west |- 0,419);
\draw[bluL] (geBib.east) .. controls (2340,702) and (2340,654) .. (bibBox.west |- 0,654);
\draw[bluL] (gePerm.east) .. controls (2320,906) and (2340,890) .. (permBox.west |- 0,890);

%================ connectors: profile parts
\draw[blk] (pfIdf.east) .. controls (1105,140) and (1095,517) .. (idfBox.west |- 0,517);
\draw[blk] (pfEdu.west) .. controls (695,168) and (700,518) .. (eduBox.east |- 0,518);
\draw[blk] (pfEmp.west) .. controls (680,130) and (400,-80) .. (empBox.east |- 0,233);
\end{tikzpicture}
\end{document}
